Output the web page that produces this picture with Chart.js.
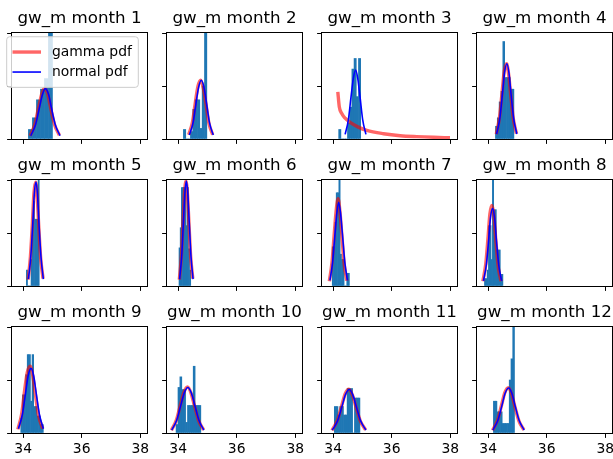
<!DOCTYPE html>
<html>
<head>
<meta charset="utf-8">
<script src="https://cdn.jsdelivr.net/npm/chart.js@4.4.1/dist/chart.umd.min.js"></script>
<style>
  html, body { margin: 0; padding: 0; background: #fff; overflow: hidden; }
  #fig { position: relative; width: 613px; height: 459px; overflow: hidden; }
  #fig canvas { position: absolute; }
</style>
</head>
<body>
<div id="fig"></div>
<script>
// values
const months = [1, 2, 3, 4, 5, 6, 7, 8, 9, 10, 11, 12];
const xTicks = [34, 36, 38];
const yTicks = [0, 0.5, 1];
const xMin = 33.62, xMax = 38.23;

// histogram: first bin edge, bin width, bar heights (fraction of axis height)
const histStart = [34.18, 34.18, 34.19, 34.25, 34.11, 34.03, 33.97, 33.875, 33.92, 33.93, 34.04, 34.18];
const histWidth = [0.137, 0.08, 0.075, 0.063, 0.04, 0.04, 0.045, 0.045, 0.055, 0.065, 0.0625, 0.06];
const histHeights = [
    [0.09, 0.2, 0.37, 0.47, 0.57, 1.05],
    [0.09, 0, 0, 0.07, 0.28, 0.37, 0.37, 0.1, 0.5, 1.05],
    [0.09, 0, 0, 0, 0.15, 0.3, 0.66, 0.76, 0.4, 0.76],
    [0.12, 0.2, 0.35, 0.45, 0.92, 0.58, 0.58, 0.58, 0.47, 0.47],
    [0.15, 0, 0, 0, 0.25, 0.55, 0.8, 0.63, 0.63, 0.63, 1.05],
    [0.36, 0.55, 0.93, 0.93, 0.93, 0.93, 0.57, 0.93, 0.35, 0.15],
    [0.37, 0.37, 0.6, 0.88, 0.88, 1.05, 0.3, 0.25, 0.25, 0, 0, 0.12, 0.12],
    [0.07, 0.07, 0.15, 0.57, 0.57, 0.25, 1.05, 0.72, 0.72, 0.34, 0.34, 0.34, 0.11, 0.11],
    [0.14, 0.36, 0.36, 0.55, 0.74, 0.74, 0.3, 0.74, 0.25, 0.25, 0.16, 0.16, 0.08, 0.08],
    [0.08, 0.43, 0.53, 0.41, 0.41, 0.1, 0.26, 0.26, 0.26, 0.63, 0.26, 0.26, 0.26],
    [0.25, 0.25, 0.17, 0.25, 0.25, 0.17, 0.17, 0.42, 0.42, 0.42, 0, 0.33, 0.33, 0.33],
    [0.3, 0.3, 0.2, 0.2, 0.2, 0.09, 0.09, 0.09, 0.09, 0.5, 0.7, 1.05]
];

// normal pdf curve points
const normX = [
    [34.26, 34.42, 34.55, 34.66, 34.76, 34.87, 34.97, 35.10, 35.26],
    [34.38, 34.51, 34.61, 34.70, 34.79, 34.88, 34.97, 35.07, 35.20],
    [34.41, 34.52, 34.61, 34.69, 34.77, 34.84, 34.92, 35.01, 35.12],
    [34.29, 34.40, 34.49, 34.56, 34.64, 34.71, 34.78, 34.87, 34.98],
    [34.18, 34.26, 34.33, 34.38, 34.44, 34.49, 34.54, 34.61, 34.69],
    [34.05, 34.12, 34.18, 34.23, 34.28, 34.33, 34.38, 34.44, 34.51],
    [33.89, 33.98, 34.06, 34.13, 34.19, 34.25, 34.32, 34.40, 34.49],
    [33.84, 33.94, 34.02, 34.08, 34.15, 34.22, 34.28, 34.36, 34.46],
    [33.84, 33.97, 34.08, 34.17, 34.27, 34.36, 34.45, 34.56, 34.69],
    [33.78, 33.95, 34.09, 34.21, 34.33, 34.45, 34.57, 34.71, 34.88],
    [33.97, 34.15, 34.30, 34.42, 34.55, 34.67, 34.79, 34.94, 35.12],
    [34.16, 34.33, 34.47, 34.58, 34.70, 34.81, 34.92, 35.06, 35.23]
];
const normY = [
    [0.031, 0.132, 0.288, 0.419, 0.475, 0.419, 0.288, 0.132, 0.031],
    [0.037, 0.154, 0.337, 0.49, 0.555, 0.49, 0.337, 0.154, 0.037],
    [0.043, 0.181, 0.395, 0.573, 0.65, 0.573, 0.395, 0.181, 0.043],
    [0.047, 0.197, 0.431, 0.626, 0.71, 0.626, 0.431, 0.197, 0.047],
    [0.065, 0.272, 0.595, 0.864, 0.98, 0.864, 0.595, 0.272, 0.065],
    [0.065, 0.275, 0.60, 0.873, 0.99, 0.873, 0.60, 0.275, 0.065],
    [0.052, 0.22, 0.48, 0.697, 0.79, 0.697, 0.48, 0.22, 0.052],
    [0.048, 0.203, 0.443, 0.644, 0.73, 0.644, 0.443, 0.203, 0.048],
    [0.04, 0.17, 0.37, 0.538, 0.61, 0.538, 0.37, 0.17, 0.04],
    [0.028, 0.12, 0.261, 0.379, 0.43, 0.379, 0.261, 0.12, 0.028],
    [0.027, 0.114, 0.249, 0.362, 0.41, 0.362, 0.249, 0.114, 0.027],
    [0.028, 0.118, 0.258, 0.375, 0.425, 0.375, 0.258, 0.118, 0.028]
];

// gamma pdf curve points
const gammaX = [
    [34.24, 34.40, 34.53, 34.64, 34.74, 34.85, 34.95, 35.08, 35.24],
    [34.36, 34.49, 34.59, 34.68, 34.77, 34.86, 34.95, 35.05, 35.18],
    [34.16, 34.21, 34.29, 34.41, 34.58, 34.86, 35.15, 35.72, 36.29, 36.86, 37.43, 37.99],
    [34.28, 34.39, 34.48, 34.55, 34.63, 34.70, 34.77, 34.86, 34.97],
    [34.17, 34.25, 34.32, 34.37, 34.43, 34.48, 34.53, 34.60, 34.68],
    [34.04, 34.11, 34.17, 34.22, 34.27, 34.32, 34.37, 34.43, 34.50],
    [33.87, 33.96, 34.04, 34.11, 34.17, 34.23, 34.30, 34.38, 34.47],
    [33.82, 33.92, 34.00, 34.06, 34.13, 34.20, 34.26, 34.34, 34.44],
    [33.82, 33.95, 34.05, 34.14, 34.24, 34.33, 34.42, 34.53, 34.67],
    [33.77, 33.94, 34.08, 34.20, 34.32, 34.44, 34.56, 34.70, 34.87],
    [33.96, 34.14, 34.29, 34.41, 34.54, 34.66, 34.78, 34.93, 35.11],
    [34.15, 34.32, 34.46, 34.57, 34.69, 34.80, 34.91, 35.05, 35.22]
];
const gammaY = [
    [0.03, 0.14, 0.30, 0.43, 0.48, 0.41, 0.28, 0.13, 0.035],
    [0.04, 0.16, 0.35, 0.50, 0.555, 0.48, 0.33, 0.15, 0.04],
    [0.445, 0.305, 0.243, 0.196, 0.156, 0.112, 0.081, 0.05, 0.031, 0.022, 0.016, 0.012],
    [0.045, 0.21, 0.45, 0.64, 0.71, 0.61, 0.42, 0.19, 0.05],
    [0.06, 0.28, 0.61, 0.88, 0.98, 0.85, 0.58, 0.26, 0.07],
    [0.06, 0.28, 0.62, 0.89, 0.99, 0.86, 0.59, 0.27, 0.07],
    [0.045, 0.22, 0.50, 0.73, 0.825, 0.71, 0.47, 0.20, 0.05],
    [0.045, 0.21, 0.47, 0.68, 0.76, 0.66, 0.44, 0.19, 0.045],
    [0.035, 0.18, 0.40, 0.57, 0.63, 0.54, 0.36, 0.16, 0.04],
    [0.026, 0.122, 0.268, 0.386, 0.435, 0.377, 0.256, 0.117, 0.03],
    [0.025, 0.116, 0.255, 0.368, 0.413, 0.358, 0.245, 0.112, 0.029],
    [0.026, 0.12, 0.264, 0.381, 0.428, 0.371, 0.253, 0.115, 0.03]
];

// layout of the 4x3 grid (page pixels)
const axLeft = [12, 167, 322, 477];
const axTop = [33, 180, 327];
const axW = 135, axH = 106, titleH = 30, xAxisH = 26;
const FONT = 'DejaVu Sans';

Chart.defaults.font.family = FONT;
Chart.defaults.color = '#000';

// box round each axes
const framePlugin = {
    id: 'frame',
    afterDraw(chart) {
        const a = chart.chartArea;
        const ctx = chart.ctx;
        ctx.save();
        ctx.strokeStyle = '#000';
        ctx.lineWidth = 1;
        ctx.strokeRect(Math.round(a.left) - 0.5, Math.round(a.top) - 0.5,
            Math.round(a.width) + 1, Math.round(a.height) + 1);
        ctx.restore();
    }
};

// matplotlib-like legend box, only for the first panel
const legendPlugin = {
    id: 'boxLegend',
    afterDraw(chart) {
        if (!chart.options.plugins.boxLegend || !chart.options.plugins.boxLegend.show) return;
        const a = chart.chartArea;
        const ctx = chart.ctx;
        const bx = a.left - 5.3, by = a.top + 3.7, bw = 131.6, bh = 50.6, r = 3;
        ctx.save();
        ctx.beginPath();
        ctx.moveTo(bx + r, by);
        ctx.lineTo(bx + bw - r, by);
        ctx.arcTo(bx + bw, by, bx + bw, by + r, r);
        ctx.lineTo(bx + bw, by + bh - r);
        ctx.arcTo(bx + bw, by + bh, bx + bw - r, by + bh, r);
        ctx.lineTo(bx + r, by + bh);
        ctx.arcTo(bx, by + bh, bx, by + bh - r, r);
        ctx.lineTo(bx, by + r);
        ctx.arcTo(bx, by, bx + r, by, r);
        ctx.closePath();
        ctx.fillStyle = 'rgba(255,255,255,0.8)';
        ctx.fill();
        ctx.strokeStyle = '#cccccc';
        ctx.lineWidth = 1;
        ctx.stroke();

        // gamma first, then normal (like the reference)
        const items = [chart.data.datasets[1], chart.data.datasets[0]];
        items.forEach(function (ds, k) {
            const y = a.top + 19 + k * 20;
            ctx.beginPath();
            ctx.moveTo(a.left + 0.5, y);
            ctx.lineTo(a.left + 29, y);
            ctx.strokeStyle = ds.borderColor;
            ctx.lineWidth = ds.borderWidth;
            ctx.stroke();
            ctx.fillStyle = '#000';
            ctx.font = '13.9px "' + FONT + '"';
            ctx.textBaseline = 'middle';
            ctx.textAlign = 'left';
            ctx.fillText(ds.label, a.left + 40, y);
        });
        ctx.restore();
    }
};

const fig = document.getElementById('fig');

for (let i = 0; i < months.length; i++) {
    const col = i % 4;
    const row = Math.floor(i / 4);
    const yw = col === 0 ? 12 : 20;
    const L = axLeft[col], T = axTop[row];

    const canvas = document.createElement('canvas');
    canvas.width = axW + 2 * yw;
    canvas.height = titleH + axH + xAxisH;
    canvas.style.left = (L - yw) + 'px';
    canvas.style.top = (T - titleH) + 'px';
    canvas.style.width = canvas.width + 'px';
    canvas.style.height = canvas.height + 'px';
    fig.appendChild(canvas);

    const normData = normX[i].map(function (x, k) { return { x: x, y: normY[i][k] }; });
    const gammaData = gammaX[i].map(function (x, k) { return { x: x, y: gammaY[i][k] }; });
    const histData = histHeights[i].map(function (h, k) {
        return { x: histStart[i] + (k + 0.5) * histWidth[i], y: h };
    });

    const tickGrid = {
        display: true,
        drawOnChartArea: false,
        drawTicks: true,
        tickLength: 4.9,
        color: '#000',
        lineWidth: 1,
        offset: false
    };

    new Chart(canvas, {
        type: 'bar',
        data: {
            datasets: [
                {
                    type: 'line',
                    label: 'normal pdf',
                    data: normData,
                    borderColor: 'rgb(0,0,255)',
                    borderWidth: 1.6,
                    pointRadius: 0,
                    fill: false,
                    cubicInterpolationMode: 'monotone',
                    order: 0
                },
                {
                    type: 'line',
                    label: 'gamma pdf',
                    data: gammaData,
                    borderColor: 'rgba(255,0,0,0.6)',
                    borderWidth: 3.4,
                    pointRadius: 0,
                    fill: false,
                    cubicInterpolationMode: 'monotone',
                    order: 1
                },
                {
                    type: 'bar',
                    label: 'hist',
                    data: histData,
                    backgroundColor: '#1f77b4',
                    borderWidth: 0,
                    barPercentage: 1,
                    categoryPercentage: 1,
                    order: 2
                }
            ]
        },
        options: {
            responsive: false,
            animation: false,
            events: [],
            layout: { autoPadding: false, padding: { left: 0, right: yw, top: 0, bottom: 0 } },
            plugins: {
                legend: { display: false },
                tooltip: { enabled: false },
                title: {
                    display: true,
                    fullSize: false,
                    text: 'gw_m month ' + months[i],
                    font: { family: FONT, size: 16.7, weight: 'normal' },
                    color: '#000',
                    padding: { top: 5.9, bottom: 4.1 }
                },
                boxLegend: { show: i === 0 }
            },
            scales: {
                x: {
                    type: 'linear',
                    min: xMin,
                    max: xMax,
                    offset: false,
                    grid: tickGrid,
                    border: { display: false },
                    ticks: {
                        font: { family: FONT, size: 13.9 },
                        color: '#000',
                        padding: 3.3,
                        maxRotation: 0,
                        autoSkip: false,
                        callback: function (v) { return row === 2 ? String(v) : ''; }
                    },
                    afterBuildTicks: function (s) { s.ticks = xTicks.map(function (v) { return { value: v }; }); },
                    afterFit: function (s) { s.height = xAxisH; }
                },
                y: {
                    type: 'linear',
                    min: 0,
                    max: 1,
                    grid: tickGrid,
                    border: { display: false },
                    ticks: { callback: function () { return ''; } },
                    afterBuildTicks: function (s) { s.ticks = yTicks.map(function (v) { return { value: v }; }); },
                    afterFit: function (s) { s.width = yw; }
                }
            }
        },
        plugins: [framePlugin, legendPlugin]
    });
}
</script>
</body>
</html>
